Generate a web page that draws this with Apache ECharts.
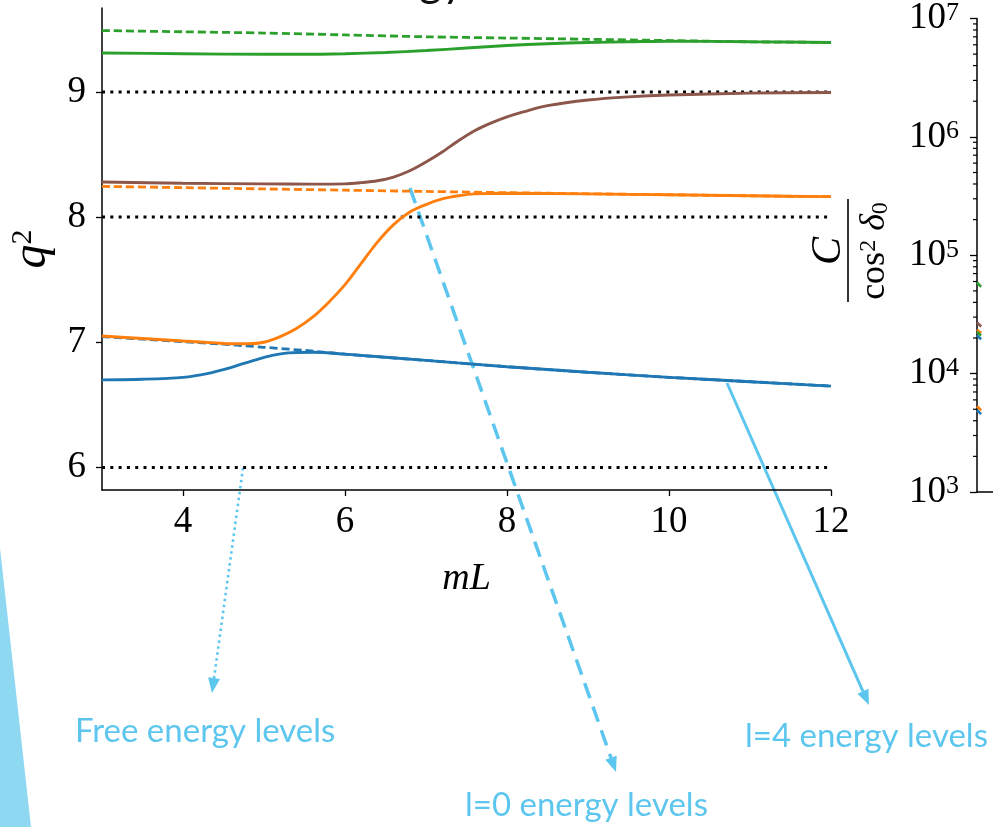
<!DOCTYPE html>
<html>
<head>
<meta charset="utf-8">
<script src="https://cdn.jsdelivr.net/npm/echarts@6/dist/echarts.min.js"></script>
<style>
html, body { margin: 0; padding: 0; background: #fff; }
#chart { width: 993px; height: 827px; }
</style>
</head>
<body>
<div id="chart"></div>
<script>
// ---- data ----
var freeLevels = [6, 8, 9];
var freeX = [3, 12];

// l=0 levels (dashed)
var l0GreenX = [3, 4, 5, 6, 7, 8, 9, 10, 11, 12];
var l0GreenY = [9.49, 9.48, 9.47, 9.455, 9.44, 9.43, 9.42, 9.41, 9.40, 9.395];
var l0OrangeX = [3, 4, 5, 6, 7, 8, 9, 10, 11, 12];
var l0OrangeY = [8.245, 8.235, 8.225, 8.215, 8.205, 8.195, 8.186, 8.178, 8.17, 8.163];
var l0BlueX = [3, 3.5, 4, 4.5, 5, 5.5, 6, 7, 8, 9, 10, 11, 12];
var l0BlueY = [7.045, 7.025, 7.005, 6.985, 6.96, 6.935, 6.905, 6.855, 6.805, 6.76, 6.72, 6.685, 6.65];

// l=4 levels (solid)
var l4BlueX = [3, 3.5, 4, 4.3, 4.6, 4.9, 5.1, 5.3, 5.6, 6, 7, 8, 9, 10, 11, 12];
var l4BlueY = [6.70, 6.705, 6.72, 6.75, 6.80, 6.86, 6.895, 6.915, 6.92, 6.905, 6.855, 6.805, 6.76, 6.72, 6.685, 6.65];
var l4OrangeX = [3, 3.5, 4, 4.4, 4.6, 4.8, 5.0, 5.2, 5.4, 5.6, 5.8, 6.0, 6.2, 6.4, 6.6, 6.8, 7.0, 7.2, 7.4, 7.6, 8, 9, 10, 11, 12];
var l4OrangeY = [7.05, 7.03, 7.01, 6.995, 6.988, 6.988, 7.0, 7.045, 7.11, 7.20, 7.32, 7.46, 7.63, 7.80, 7.94, 8.04, 8.10, 8.145, 8.17, 8.185, 8.19, 8.185, 8.178, 8.17, 8.163];
var l4BrownX = [3, 4, 5, 5.6, 6.0, 6.2, 6.4, 6.6, 6.8, 7.0, 7.2, 7.4, 7.6, 7.8, 8.0, 8.2, 8.5, 9, 9.5, 10, 11, 12];
var l4BrownY = [8.28, 8.27, 8.265, 8.263, 8.265, 8.275, 8.29, 8.32, 8.37, 8.44, 8.52, 8.61, 8.69, 8.75, 8.80, 8.84, 8.89, 8.935, 8.96, 8.975, 8.99, 8.995];
var l4GreenX = [3, 4, 5, 5.5, 6, 6.5, 7, 7.5, 8, 8.5, 9, 9.5, 10, 11, 12];
var l4GreenY = [9.31, 9.305, 9.30, 9.30, 9.305, 9.315, 9.33, 9.35, 9.37, 9.385, 9.395, 9.40, 9.405, 9.40, 9.395];

var xTicks = [4, 6, 8, 10, 12];
var yTicks = [6, 7, 8, 9];

// right panel (cut off at the edge)
var rightX = [3, 3.5];
var rightGreen = [59000, 54000];
var rightBrown = [27000, 25000];
var rightOrange = [23500, 22000];
var rightGreen2 = [22500, 21000];
var rightBlue = [21000, 19500];
var rightOrangeLow = [5300, 4900];
var rightBlueLow = [4900, 4550];
var rightDecades = [1e3, 1e4, 1e5, 1e6];

var C_BLUE = '#1f77b4', C_ORANGE = '#ff7f0e', C_GREEN = '#2ca02c', C_BROWN = '#8c564b';
var ANN = '#5cc6ee';
var SERIF = 'Liberation Serif';

function pairs(xs, ys) {
  return xs.map(function (x, i) { return [x, ys[i]]; });
}

function dashedLine(name, xs, ys, color) {
  return {
    name: name, type: 'line', data: pairs(xs, ys), showSymbol: false, smooth: 0.3,
    lineStyle: { color: color, width: 2.8, type: [8, 4] }, z: 2
  };
}
function solidLine(name, xs, ys, color) {
  return {
    name: name, type: 'line', data: pairs(xs, ys), showSymbol: false, smooth: 0.3,
    lineStyle: { color: color, width: 2.9 }, z: 3
  };
}
function rightLine(ys, color) {
  return {
    type: 'line', xAxisIndex: 1, yAxisIndex: 1, data: pairs(rightX, ys), showSymbol: false,
    lineStyle: { color: color, width: 2.6 }
  };
}

var minorTicks = [];
rightDecades.forEach(function (d) {
  for (var k = 2; k <= 9; k++) minorTicks.push([3, k * d]);
});

function arrow(x1, y1, x2, y2, dash, width) {
  var dx = x2 - x1, dy = y2 - y1, len = Math.sqrt(dx * dx + dy * dy);
  var ux = dx / len, uy = dy / len, hl = 15, hw = 6;
  var bx = x2 - ux * hl, by = y2 - uy * hl;
  return [
    { type: 'line', shape: { x1: x1, y1: y1, x2: bx, y2: by },
      style: { stroke: ANN, lineWidth: width, lineDash: dash } },
    { type: 'polygon', shape: { points: [[x2, y2], [bx - uy * hw, by + ux * hw], [bx + uy * hw, by - ux * hw]] },
      style: { fill: ANN } }
  ];
}

var series = [];
freeLevels.forEach(function (v) {
  series.push({
    name: 'free', type: 'line', data: pairs(freeX, [v, v]), showSymbol: false,
    lineStyle: { color: '#000', width: 3, type: [3, 5.3] }, z: 1
  });
});
series.push(dashedLine('l=0', l0GreenX, l0GreenY, C_GREEN));
series.push(dashedLine('l=0', l0OrangeX, l0OrangeY, C_ORANGE));
series.push(dashedLine('l=0', l0BlueX, l0BlueY, C_BLUE));
series.push(solidLine('l=4', l4BlueX, l4BlueY, C_BLUE));
series.push(solidLine('l=4', l4OrangeX, l4OrangeY, C_ORANGE));
series.push(solidLine('l=4', l4BrownX, l4BrownY, C_BROWN));
series.push(solidLine('l=4', l4GreenX, l4GreenY, C_GREEN));

series.push(rightLine(rightGreen, C_GREEN));
series.push(rightLine(rightBrown, C_BROWN));
series.push(rightLine(rightOrange, C_ORANGE));
series.push(rightLine(rightGreen2, C_GREEN));
series.push(rightLine(rightBlue, C_BLUE));
series.push(rightLine(rightOrangeLow, C_ORANGE));
series.push(rightLine(rightBlueLow, C_BLUE));
series.push({
  type: 'custom', xAxisIndex: 1, yAxisIndex: 1, data: minorTicks, silent: true,
  renderItem: function (params, api) {
    var p = api.coord([api.value(0), api.value(1)]);
    return { type: 'line', shape: { x1: p[0] - 4, y1: p[1], x2: p[0], y2: p[1] },
      style: { stroke: '#000', lineWidth: 1.2 } };
  }
});

var graphics = [
  { type: 'polygon', shape: { points: [[0, 548], [31, 827], [0, 827]] }, style: { fill: '#8fd8f2' } },
  { type: 'text', x: 331, y: 4, style: { text: 'Energy levels', font: '44px Lato', fill: '#111', verticalAlign: 'bottom' } },
  // right panel y label: C / cos^2 delta_0
  { type: 'text', x: 829, y: 251, rotation: Math.PI / 2,
    style: { text: 'C', font: 'italic 42px ' + SERIF, fill: '#000', align: 'center', verticalAlign: 'middle' } },
  { type: 'line', shape: { x1: 848, y1: 199, x2: 848, y2: 302 }, style: { stroke: '#000', lineWidth: 1.6 } },
  { type: 'text', x: 875, y: 251, rotation: Math.PI / 2,
    style: {
      text: '{a|cos}{s|2}{a| }{d|δ}{b|0}', align: 'center', verticalAlign: 'middle', fill: '#000',
      rich: {
        a: { fontFamily: SERIF, fontSize: 36 },
        s: { fontFamily: SERIF, fontSize: 24, verticalAlign: 'top' },
        d: { fontFamily: SERIF, fontStyle: 'italic', fontSize: 36 },
        b: { fontFamily: SERIF, fontSize: 24, verticalAlign: 'bottom' }
      }
    } },
  { type: 'text', x: 75, y: 731, style: { text: 'Free energy levels', font: '33px Lato', fill: ANN, verticalAlign: 'middle' } },
  { type: 'text', x: 465, y: 805, style: { text: 'l=0 energy levels', font: '33px Lato', fill: ANN, verticalAlign: 'middle' } },
  { type: 'text', x: 745, y: 736, style: { text: 'l=4 energy levels', font: '33px Lato', fill: ANN, verticalAlign: 'middle' } }
];
graphics = graphics.concat(arrow(243, 468, 212, 693, [2.5, 3.5], 2.6));
graphics = graphics.concat(arrow(410, 188, 616, 772, [16, 9], 3.5));
graphics = graphics.concat(arrow(727, 383, 869, 705, null, 3));

var axisBlack = { lineStyle: { color: '#000', width: 1.5 } };

var option = {
  animation: false,
  backgroundColor: '#fff',
  grid: [
    { left: 102, top: 8, width: 729, height: 482 },
    { left: 977, top: 7, width: 300, height: 485 }
  ],
  xAxis: [
    {
      type: 'value', gridIndex: 0, min: 3, max: 12,
      name: 'mL', nameLocation: 'middle', nameGap: 70,
      nameTextStyle: { fontFamily: SERIF, fontStyle: 'italic', fontSize: 38, color: '#000' },
      axisLine: axisBlack,
      axisTick: { show: true, length: 6, lineStyle: { color: '#000', width: 1.3 }, customValues: xTicks },
      axisLabel: { customValues: xTicks, margin: 14, fontFamily: SERIF, fontSize: 37, color: '#000' },
      splitLine: { show: false }
    },
    {
      type: 'value', gridIndex: 1, min: 3, max: 12,
      axisLine: axisBlack, axisTick: { show: false }, axisLabel: { show: false }, splitLine: { show: false }
    }
  ],
  yAxis: [
    {
      type: 'value', gridIndex: 0, min: 5.82, max: 9.67,
      name: '{q|q}{s|2}', nameLocation: 'middle', nameRotate: 90, nameGap: 42,
      nameTextStyle: {
        rich: {
          q: { fontFamily: SERIF, fontStyle: 'italic', fontSize: 48, color: '#000' },
          s: { fontFamily: SERIF, fontSize: 30, color: '#000', verticalAlign: 'top' }
        }
      },
      axisLine: axisBlack,
      axisTick: { show: true, length: 6, lineStyle: { color: '#000', width: 1.3 }, customValues: yTicks },
      axisLabel: { customValues: yTicks, margin: 16, fontFamily: SERIF, fontSize: 37, color: '#000' },
      splitLine: { show: false }
    },
    {
      type: 'log', gridIndex: 1, logBase: 10, min: 1000, max: 1e7,
      axisLine: axisBlack,
      axisTick: { show: true, length: 7, lineStyle: { color: '#000', width: 1.3 } },
      axisLabel: {
        margin: 18, color: '#000',
        formatter: function (v) {
          return '{b|10}{s|' + Math.round(Math.log10(v)) + '}';
        },
        rich: {
          b: { fontFamily: SERIF, fontSize: 37 },
          s: { fontFamily: SERIF, fontSize: 26, verticalAlign: 'top' }
        }
      },
      splitLine: { show: false }
    }
  ],
  series: series,
  graphic: graphics
};

var chart = echarts.init(document.getElementById('chart'), null, { renderer: 'canvas' });
chart.setOption(option);
</script>
</body>
</html>
